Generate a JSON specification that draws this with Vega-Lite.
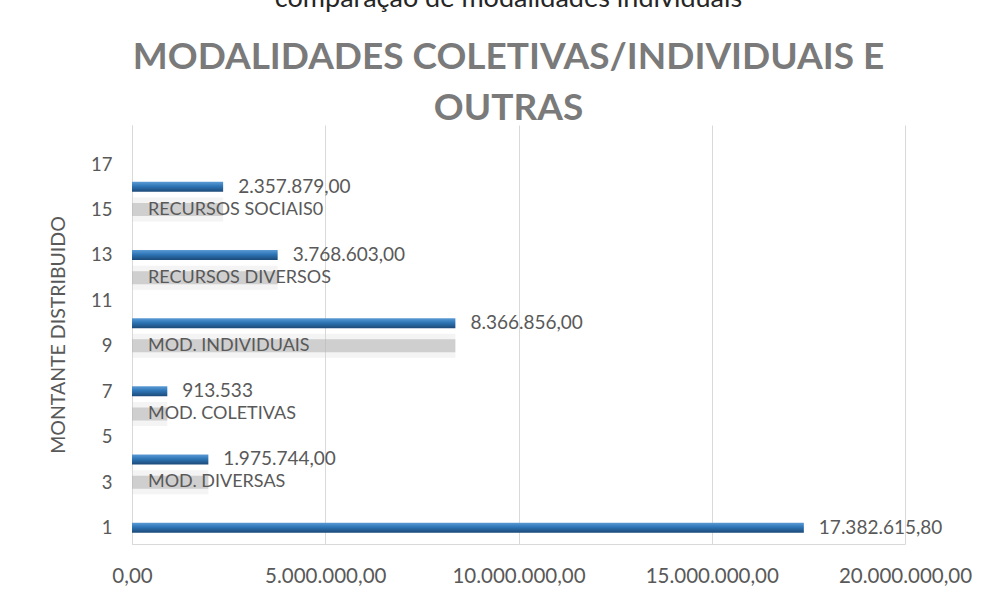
{
  "$schema": "https://vega.github.io/schema/vega-lite/v6.json",
  "autosize": {"type": "none"},
  "width": 773,
  "height": 419,
  "padding": {"left": 132, "top": 125, "right": 95, "bottom": 56},
  "background": "white",
  "title": {
    "text": "comparação de modalidades individuais",
    "subtitle": ["MODALIDADES COLETIVAS/INDIVIDUAIS E", "OUTRAS"],
    "anchor": "middle",
    "dx": -10,
    "offset": -3,
    "font": "Lato",
    "fontSize": 27,
    "fontWeight": "normal",
    "color": "#262626",
    "subtitleFont": "Lato",
    "subtitleFontSize": 37,
    "subtitleFontWeight": "bold",
    "subtitleColor": "#7a7a7a",
    "subtitleLineHeight": 51,
    "subtitlePadding": 27
  },
  "data": {
    "values": [
      {"cat": "", "barPos": 1, "labelPos": null, "value": 17382615.8, "label": "17.382.615,80"},
      {"cat": "MOD. DIVERSAS", "barPos": 4, "labelPos": 3, "value": 1975744, "label": "1.975.744,00"},
      {"cat": "MOD. COLETIVAS", "barPos": 7, "labelPos": 6, "value": 913533, "label": "913.533"},
      {"cat": "MOD. INDIVIDUAIS", "barPos": 10, "labelPos": 9, "value": 8366856, "label": "8.366.856,00"},
      {"cat": "RECURSOS DIVERSOS", "barPos": 13, "labelPos": 12, "value": 3768603, "label": "3.768.603,00"},
      {"cat": "RECURSOS SOCIAIS0", "barPos": 16, "labelPos": 15, "value": 2357879, "label": "2.357.879,00"}
    ]
  },
  "layer": [
    {
      "transform": [{"filter": "datum.labelPos != null"}],
      "mark": {"type": "bar", "orient": "horizontal", "size": 24, "color": "#d4d4d4", "opacity": 0.25},
      "encoding": {
        "x": {"field": "value", "type": "quantitative"},
        "y": {"field": "labelPos", "type": "quantitative"}
      }
    },
    {
      "transform": [{"filter": "datum.labelPos != null"}],
      "mark": {"type": "bar", "orient": "horizontal", "size": 13, "color": "#b0b0b0", "opacity": 0.55},
      "encoding": {
        "x": {"field": "value", "type": "quantitative"},
        "y": {"field": "labelPos", "type": "quantitative"}
      }
    },
    {
      "mark": {
        "type": "bar",
        "orient": "horizontal",
        "size": 10,
        "color": {
          "gradient": "linear",
          "x1": 0, "y1": 0, "x2": 0, "y2": 1,
          "stops": [
            {"offset": 0, "color": "#5b9bd5"},
            {"offset": 0.45, "color": "#2e75b6"},
            {"offset": 1, "color": "#1c4a78"}
          ]
        }
      },
      "encoding": {
        "x": {
          "field": "value",
          "type": "quantitative",
          "scale": {"domain": [0, 20000000]},
          "axis": {
            "title": null,
            "values": [0, 5000000, 10000000, 15000000, 20000000],
            "format": ",.2f",
            "labelFont": "Lato",
            "labelFontSize": 20.5,
            "labelColor": "#595959",
            "labelPadding": 22,
            "ticks": false,
            "grid": true,
            "gridColor": "#d9d9d9",
            "domainColor": "#d9d9d9",
            "labelFlush": false
          }
        },
        "y": {
          "field": "barPos",
          "type": "quantitative",
          "scale": {"domain": [0.5, 18.5], "nice": false, "zero": false},
          "axis": {
            "title": "MONTANTE DISTRIBUIDO",
            "values": [1, 3, 5, 7, 9, 11, 13, 15, 17],
            "labelFont": "Lato",
            "labelFontSize": 18.5,
            "labelColor": "#595959",
            "labelPadding": 20,
            "ticks": false,
            "grid": false,
            "domainColor": "#d9d9d9",
            "titleFont": "Lato",
            "titleFontSize": 19.5,
            "titleFontWeight": "normal",
            "titleColor": "#595959",
            "titlePadding": 22
          }
        }
      }
    },
    {
      "mark": {"type": "text", "align": "left", "baseline": "middle", "dx": 15, "font": "Lato", "fontSize": 19, "color": "#595959"},
      "encoding": {
        "x": {"field": "value", "type": "quantitative"},
        "y": {"field": "barPos", "type": "quantitative"},
        "text": {"field": "label"}
      }
    },
    {
      "transform": [{"filter": "datum.labelPos != null"}],
      "mark": {"type": "text", "align": "left", "baseline": "middle", "dx": 16, "font": "Lato", "fontSize": 18, "color": "#595959"},
      "encoding": {
        "x": {"datum": 0, "type": "quantitative"},
        "y": {"field": "labelPos", "type": "quantitative"},
        "text": {"field": "cat"}
      }
    }
  ],
  "config": {
    "view": {"stroke": null},
    "locale": {
      "number": {"decimal": ",", "thousands": ".", "grouping": [3], "currency": ["R$", ""]}
    }
  }
}
